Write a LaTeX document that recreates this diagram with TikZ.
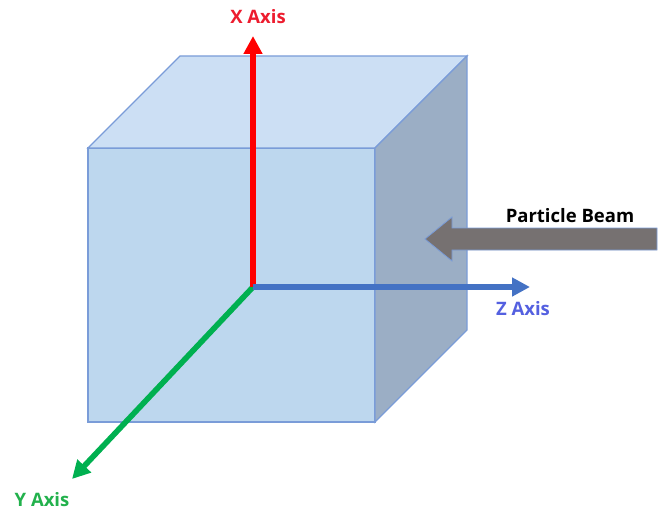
\documentclass[tikz,border=0pt]{standalone}
\usepackage{fontspec}
\setmainfont{Open Sans}
\usetikzlibrary{arrows.meta}
\definecolor{frontc}{HTML}{BDD7EE}
\definecolor{topc}{HTML}{CCDFF4}
\definecolor{sidec}{HTML}{9BAEC5}
\definecolor{edgec}{HTML}{7A9CD8}
\definecolor{zaxis}{HTML}{4472C4}
\definecolor{zlabel}{HTML}{5460E0}
\definecolor{yaxis}{HTML}{00B050}
\definecolor{beamc}{HTML}{767171}
\definecolor{xlabel}{HTML}{ED1C2E}
\definecolor{ylabel}{HTML}{22B14C}
\tikzset{
  face/.style={draw=edgec,line width=1.4pt,line join=miter},
  axis/.style={line width=5.6pt},
  axlabel/.style={font=\fontsize{18.5}{20}\selectfont\bfseries,inner sep=0pt},
}
\begin{document}
\begin{tikzpicture}[x=1pt,y=-1pt]
\useasboundingbox (0,0) rectangle (659,508);
\coordinate (fa) at (88,148);
\coordinate (fb) at (375,148);
\coordinate (fc) at (375,422);
\coordinate (fd) at (88,422);
\coordinate (ba) at (180,56);
\coordinate (bb) at (467,56);
\coordinate (bc) at (467,330);
\coordinate (o) at (253,287);
\coordinate (xe) at (253,36);
\coordinate (ze) at (530,287);
\coordinate (ye) at (72,479);
\draw[face,fill=frontc] (fa) -- (fb) -- (fc) -- (fd) -- cycle;
\draw[face,fill=topc] (fa) -- (ba) -- (bb) -- (fb) -- cycle;
\draw[face,fill=sidec] (fb) -- (bb) -- (bc) -- (fc) -- cycle;
\draw[axis,draw=yaxis,-{Triangle[length=18pt,width=18pt]}] (o) -- (ye);
\draw[axis,draw=red,-{Triangle[length=18pt,width=18pt]}] (o) -- (xe);
\draw[axis,draw=zaxis,-{Triangle[length=18pt,width=18pt]}] (o) -- (ze);
\draw[draw=edgec,line width=0.8pt,fill=beamc] (657,228) -- (452,228) -- (452,217) -- (425,239) -- (452,261) -- (452,250) -- (657,250) -- cycle;
\node[axlabel,text=xlabel] (xl) at (258,16.5) {X Axis};
\node[axlabel,text=zlabel] (zl) at (523,309) {Z Axis};
\node[axlabel,text=ylabel] (yl) at (42,499.5) {Y Axis};
\node[axlabel,text=black] (bl) at (570,216) {Particle Beam};
\end{tikzpicture}
\end{document}
